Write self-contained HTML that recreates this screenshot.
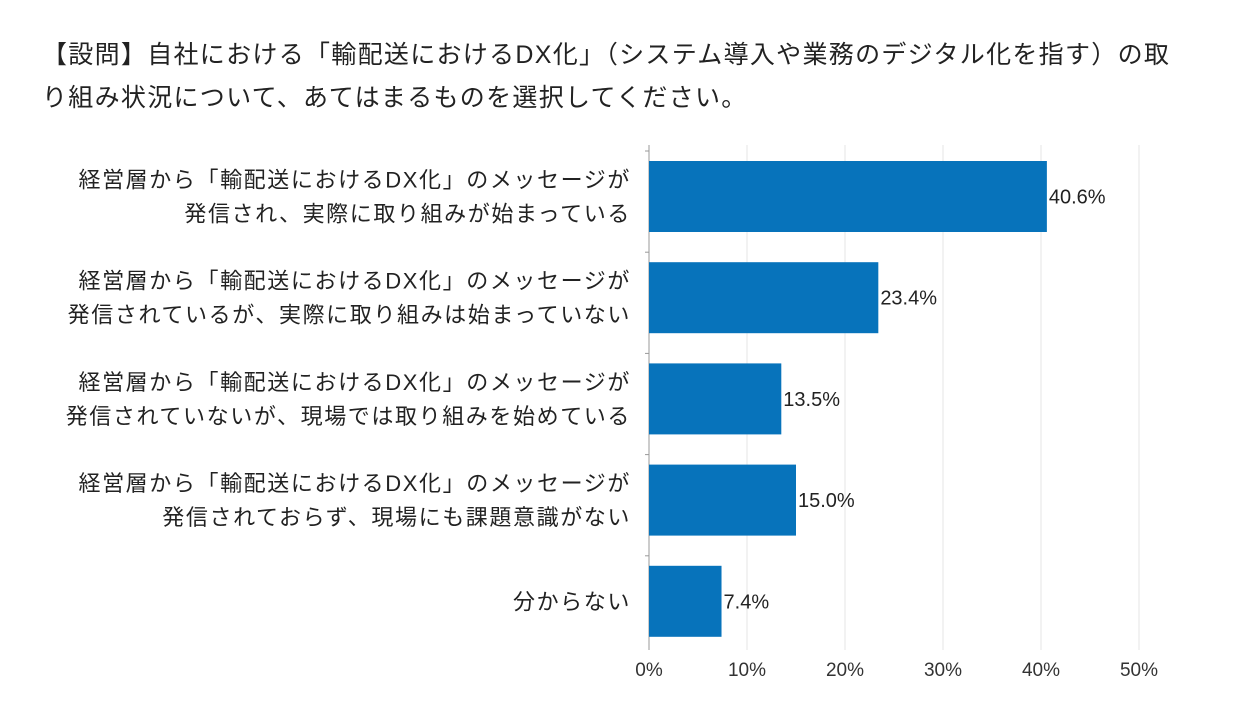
<!DOCTYPE html>
<html><head><meta charset="utf-8"><style>
body{margin:0;background:#fff;font-family:"Liberation Sans","Noto Sans CJK JP",sans-serif;color:#222}
#wrap{position:relative;width:1240px;height:717px;overflow:hidden}
.title{position:absolute;left:42px;top:34px;font-size:25px;line-height:43px;width:1200px;letter-spacing:1.3px;white-space:nowrap}
svg text{font-family:"Liberation Sans","Noto Sans CJK JP",sans-serif}
</style></head><body>
<div id="wrap">
<div class="title">【設問】自社における「輸配送におけるDX化」（システム導入や業務のデジタル化を指す）の取<br>り組み状況について、あてはまるものを選択してください。</div>
<svg id="chart" width="1240" height="717" style="position:absolute;left:0;top:0"></svg>
</div>
<script>
const categories=[
["経営層から「輸配送におけるDX化」のメッセージが","発信され、実際に取り組みが始まっている"],
["経営層から「輸配送におけるDX化」のメッセージが","発信されているが、実際に取り組みは始まっていない"],
["経営層から「輸配送におけるDX化」のメッセージが","発信されていないが、現場では取り組みを始めている"],
["経営層から「輸配送におけるDX化」のメッセージが","発信されておらず、現場にも課題意識がない"],
["分からない"]];
const values=[40.6,23.4,13.5,15.0,7.4];
const ticks=[0,10,20,30,40,50];
const tickLabels=["0%","10%","20%","30%","40%","50%"];
const NS="http://www.w3.org/2000/svg";
const svg=document.getElementById('chart');
const x0=649,pxPer=9.8,yTop=161,pitch=101.2,barH=71;
const xs=v=>x0+v*pxPer;
const yb=i=>yTop+i*pitch;
function mk(t,a){const e=document.createElementNS(NS,t);for(const k in a)e.setAttribute(k,a[k]);svg.appendChild(e);return e;}
ticks.forEach((t,i)=>{
 if(i>0){const g=mk('line',{x1:xs(t),x2:xs(t),y1:145,y2:650,stroke:'#e6e6e6','stroke-width':1});
 
 }
 const l=mk('text',{x:xs(t),y:676,'text-anchor':'middle','font-size':19,fill:'#333'});
 
 
 l.textContent=tickLabels[i];
});
const ax=mk('line',{x1:x0,x2:x0,y1:145,y2:650,stroke:'#999','stroke-width':1});


values.forEach((v,i)=>{
 const y=yb(i);
 const tk=mk('line',{x1:x0-4,x2:x0,y1:y-10,y2:y-10,stroke:'#999'});
 
 
 const r=mk('rect',{x:x0,y:y,width:xs(v)-x0,height:barH,fill:'#0773bb'});
 
 
 const t=mk('text',{x:xs(v)+2,y:y+barH/2+7,'font-size':20,fill:'#222'});
 
 
 t.textContent=v.toFixed(1)+'%';
 const lines=categories[i];
 lines.forEach((s,j)=>{
  const cy=y+barH/2+8+(j-(lines.length-1)/2)*34;
  const c=mk('text',{x:631,y:cy,'text-anchor':'end','font-size':22,'letter-spacing':1.6,fill:'#222'});
  
  
  c.textContent=s;
 });
});
</script>
</body></html>
